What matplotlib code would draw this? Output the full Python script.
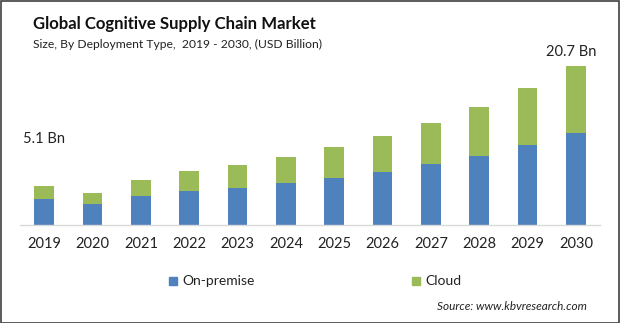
import matplotlib
matplotlib.use("Agg")
import matplotlib.pyplot as plt
from matplotlib.patches import Rectangle

years = ["2019", "2020", "2021", "2022", "2023", "2024",
         "2025", "2026", "2027", "2028", "2029", "2030"]
on_premise = [3.4, 2.73, 3.78, 4.43, 4.82, 5.47, 6.12, 6.9, 7.94, 8.98, 10.42, 11.98]
cloud = [1.7, 1.44, 2.08, 2.6, 2.99, 3.38, 4.04, 4.69, 5.34, 6.38, 7.42, 8.72]
series_names = ["On-premise", "Cloud"]
first_label = "5.1 Bn"
last_label = "20.7 Bn"

BLUE = "#4f81bd"
GREEN = "#9bbb59"
FONT = ["Lato", "DejaVu Sans"]
plt.rcParams["font.family"] = FONT

W, H = 620, 323
fig = plt.figure(figsize=(W / 100, H / 100), dpi=100)
fig.patch.set_facecolor("white")

# frame around the whole figure
fig.add_artist(Rectangle((0.5 / W, 0.5 / H), 1 - 1.5 / W, 1 - 1.5 / H,
                         transform=fig.transFigure, fill=False,
                         edgecolor="#404040", linewidth=1.2))

ax = fig.add_axes([20 / W, (H - 225) / H, 580 / W, 184 / H])
x = list(range(len(years)))
ax.bar(x, on_premise, width=0.41, color=BLUE, label=series_names[0])
ax.bar(x, cloud, width=0.41, bottom=on_premise, color=GREEN, label=series_names[1])
ax.set_xlim(-0.5, len(years) - 0.5)
ax.set_ylim(0, 24)
for s in ["top", "right", "left"]:
    ax.spines[s].set_visible(False)
ax.spines["bottom"].set_color("#d9d9d9")
ax.spines["bottom"].set_linewidth(1)
ax.set_yticks([])
ax.set_xticks(x)
ax.set_xticklabels(years, fontsize=10.5, color="#222222")
ax.tick_params(axis="x", length=0, pad=9)

total_first = on_premise[0] + cloud[0]
total_last = on_premise[-1] + cloud[-1]
ax.annotate(first_label, (0, total_first), xytext=(0, 29), textcoords="offset points",
            ha="center", va="bottom", fontsize=10.5, color="#222222")
ax.annotate(last_label, (len(years) - 1, total_last), xytext=(-3, 5), textcoords="offset points",
            ha="center", va="bottom", fontsize=10.5, color="#222222")

fig.text(33 / W, 1 - 24 / H, "Global Cognitive Supply Chain Market", fontsize=12.1,
         fontweight="bold", va="center", ha="left", color="#111111")
fig.text(33 / W, 1 - 44 / H, "Size, By Deployment Type,  2019 - 2030, (USD Billion)",
         fontsize=8.7, va="center", ha="left", color="#222222")

# legend
for (lx, name, col) in [(173, series_names[0], BLUE), (416, series_names[1], GREEN)]:
    fig.add_artist(Rectangle(((lx - 4) / W, 1 - 285 / H), 8 / W, 8 / H,
                             transform=fig.transFigure, color=col))
    fig.text((lx + 9) / W, 1 - 281 / H, name, fontsize=10, va="center", ha="left",
             color="#222222")

fig.text(587 / W, 1 - 307 / H, "Source: www.kbvresearch.com", fontsize=8.5,
         style="italic", va="center", ha="right", color="#222222")

fig.savefig("out.png", dpi=100, facecolor="white")
